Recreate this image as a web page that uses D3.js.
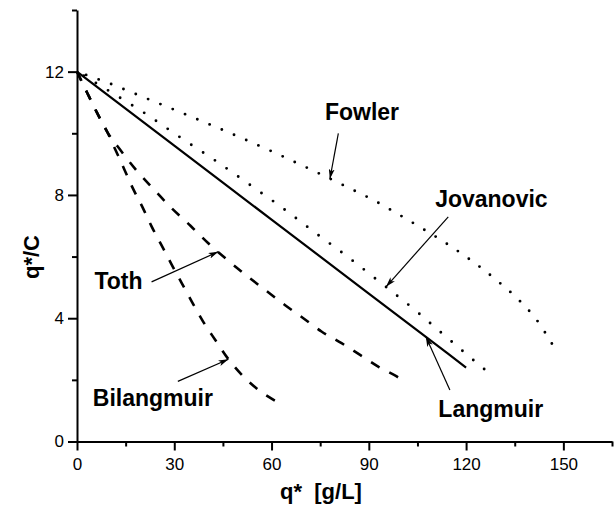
<!DOCTYPE html>
<html>
<head>
<meta charset="utf-8">
<script src="https://cdn.jsdelivr.net/npm/d3@7"></script>
<style>
  html, body { margin: 0; padding: 0; background: #fff; }
  svg { display: block; }
  text { font-family: "Liberation Sans", Arial, Helvetica, sans-serif; fill: #000; }
</style>
</head>
<body>
<svg id="chart" width="615" height="511"></svg>
<script>
// Isotherm curves: q* [g/L] against q*/C
const langmuirQ  = [0, 30, 60, 90, 120];
const langmuirQC = [12, 9.6, 7.2, 4.8, 2.4];

const jovanovicQ  = [0, 10.7, 21.2, 31.5, 42, 56, 63.1, 73.4, 84, 94.5, 105.2, 111.9, 118.8, 125.8];
const jovanovicQC = [12, 11.32, 10.63, 9.89, 9.16, 8.13, 7.6, 6.78, 5.95, 5.08, 4.18, 3.57, 2.95, 2.33];

const fowlerQ  = [0, 10.7, 21.2, 31.5, 42, 59.5, 73.4, 84, 90.9, 101.4, 115.3, 122.3, 129.3, 136, 141.8, 146.6];
const fowlerQC = [12, 11.59, 11.14, 10.7, 10.24, 9.44, 8.76, 8.22, 7.86, 7.23, 6.33, 5.82, 5.24, 4.62, 3.94, 3.15];

const tothQ  = [0, 3.2, 6.2, 9.35, 13.5, 18.4, 23.5, 28.9, 35, 40.5, 46.4, 52.3, 58, 64.1, 69.8, 75.4, 81.6, 87.3, 92.9, 98.6, 99.8];
const tothQC = [12, 11.3, 10.66, 10.04, 9.44, 8.79, 8.2, 7.6, 7.0, 6.43, 5.89, 5.38, 4.92, 4.43, 4.0, 3.57, 3.19, 2.81, 2.43, 2.11, 2.03];

const bilangmuirQ  = [0, 3.2, 6.2, 9.35, 11.7, 14.5, 17.2, 20.3, 23, 26.1, 29.2, 32.3, 35.4, 38.9, 42.6, 46.7, 51.3, 55.9, 61.5];
const bilangmuirQC = [12, 11.3, 10.66, 10.04, 9.5, 8.85, 8.22, 7.58, 6.98, 6.36, 5.74, 5.14, 4.54, 3.89, 3.3, 2.67, 2.11, 1.68, 1.3];

// Axis ticks
const xTicks = [0, 30, 60, 90, 120, 150];
const xMinorTicks = [15, 45, 75, 105, 135, 165];
const yTicks = [0, 4, 8, 12];
const yMinorTicks = [2, 6, 10, 14];

const xTitle = "q*  [g/L]";
const yTitle = "q*/C";

// Curve labels with leader arrows (data units)
const labelNames = ["Fowler", "Jovanovic", "Toth", "Bilangmuir", "Langmuir"];
const labelQ     = [87.9, 127.8, 12.8, 23.4, 127.6];
const labelQC    = [10.43, 7.62, 4.95, 1.15, 0.80];
const arrowFromQ  = [80.6, 114.5, 23.0, 31.1, 115.0];
const arrowFromQC = [10.0, 7.29, 5.18, 1.95, 1.67];
const arrowToQ    = [78.0, 95.3, 43.6, 46.7, 107.6];
const arrowToQC   = [8.52, 5.02, 6.16, 2.67, 3.40];

const svg = d3.select("#chart");

const x = d3.scaleLinear().domain([0, 165]).range([77, 612]);
const y = d3.scaleLinear().domain([0, 14]).range([441.5, 10]);

// Series definitions built from the arrays above
const series = [
  { q: langmuirQ,   qc: langmuirQC,   dash: null,      width: 2.2, cap: "butt" },
  { q: jovanovicQ,  qc: jovanovicQC,  dash: "0,14.2",  dot: 14.2, width: 2.9, cap: "round" },
  { q: fowlerQ,     qc: fowlerQC,     dash: "0,13.3",  dot: 13.3, width: 2.9, cap: "round" },
  { q: tothQ,       qc: tothQC,       dash: "10,11",   width: 2.6, cap: "butt" },
  { q: bilangmuirQ, qc: bilangmuirQC, dash: "10,11",   width: 2.6, cap: "butt" }
];

const line = d3.line()
  .x(d => x(d[0]))
  .y(d => y(d[1]))
  .curve(d3.curveMonotoneX);

svg.append("g").selectAll("path")
  .data(series)
  .join("path")
  .attr("d", s => line(s.q.map((v, i) => [v, s.qc[i]])))
  .attr("fill", "none")
  .attr("stroke", "#000")
  .attr("stroke-width", s => s.width)
  .attr("stroke-linecap", s => s.cap)
  .attr("stroke-dasharray", s => s.dash)
  .each(function (s) {
    // dotted curves: shift the pattern so a dot sits just before the final point
    if (s.dot) {
      const len = this.getTotalLength() - 1;
      d3.select(this).attr("stroke-dashoffset", s.dot - (len % s.dot));
    }
  });

// Axes
const xAxis = svg.append("g")
  .attr("transform", `translate(0,${y(0)})`)
  .call(d3.axisBottom(x).tickValues(xTicks).tickSize(9).tickSizeOuter(0).tickPadding(7));
const xMinor = svg.append("g")
  .attr("transform", `translate(0,${y(0)})`)
  .call(d3.axisBottom(x).tickValues(xMinorTicks).tickSize(5).tickSizeOuter(0).tickFormat(""));

const yAxis = svg.append("g")
  .attr("transform", `translate(${x(0)},0)`)
  .call(d3.axisLeft(y).tickValues(yTicks).tickSize(9).tickSizeOuter(0).tickPadding(4));
const yMinor = svg.append("g")
  .attr("transform", `translate(${x(0)},0)`)
  .call(d3.axisLeft(y).tickValues(yMinorTicks).tickSize(5).tickSizeOuter(0).tickFormat(""));

[xAxis, xMinor, yAxis, yMinor].forEach(g => {
  g.selectAll(".domain").attr("stroke", "#000").attr("stroke-width", 2);
  g.selectAll(".tick line").attr("stroke", "#000").attr("stroke-width", 2);
  g.selectAll(".tick text")
    .style("font-family", "'Liberation Sans', Arial, sans-serif")
    .style("font-size", "17px")
    .attr("fill", "#000");
});
xMinor.select(".domain").remove();
yMinor.select(".domain").remove();

// Axis titles
svg.append("text")
  .attr("x", 321)
  .attr("y", 499)
  .attr("text-anchor", "middle")
  .style("font-size", "22px")
  .style("font-weight", "bold")
  .style("white-space", "pre")
  .text(xTitle);

svg.append("text")
  .attr("transform", "translate(39,257) rotate(-90)")
  .attr("text-anchor", "middle")
  .style("font-size", "22px")
  .style("font-weight", "bold")
  .text(yTitle);

// Curve labels
svg.append("g").selectAll("text")
  .data(labelNames)
  .join("text")
  .attr("x", (d, i) => x(labelQ[i]))
  .attr("y", (d, i) => y(labelQC[i]))
  .attr("text-anchor", "middle")
  .style("font-size", "23px")
  .style("font-weight", "bold")
  .text(d => d);

// Leader arrows
svg.append("defs").append("marker")
  .attr("id", "head")
  .attr("viewBox", "0 0 10 6")
  .attr("refX", 10)
  .attr("refY", 3)
  .attr("markerWidth", 10)
  .attr("markerHeight", 6)
  .attr("markerUnits", "userSpaceOnUse")
  .attr("orient", "auto")
  .append("path")
  .attr("d", "M0,0 L10,3 L0,6 L2.5,3 Z")
  .attr("fill", "#000");

svg.append("g").selectAll("line")
  .data(labelNames)
  .join("line")
  .attr("x1", (d, i) => x(arrowFromQ[i]))
  .attr("y1", (d, i) => y(arrowFromQC[i]))
  .attr("x2", (d, i) => x(arrowToQ[i]))
  .attr("y2", (d, i) => y(arrowToQC[i]))
  .attr("stroke", "#000")
  .attr("stroke-width", 1.2)
  .attr("marker-end", "url(#head)");
</script>
</body>
</html>
